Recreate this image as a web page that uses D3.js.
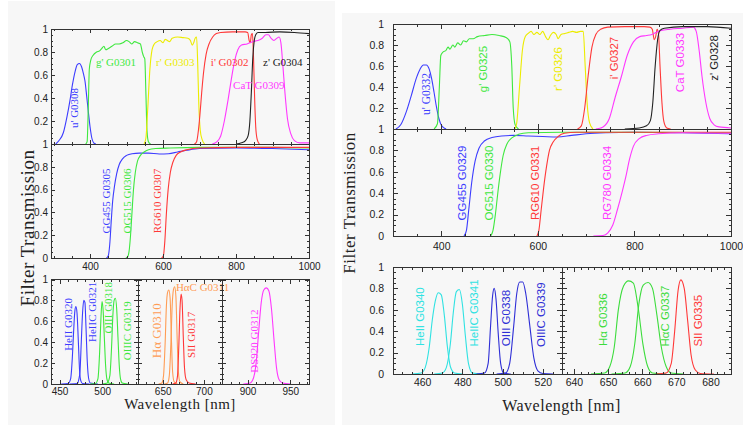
<!DOCTYPE html>
<html lang="en">
<head>
<meta charset="UTF-8" />
<title>Filter transmission curves</title>
<script src="https://d3js.org/d3.v7.min.js"></script>
<style>
  body { margin: 0; background: #fff; }
  svg { display: block; }
  .frame { fill: none; stroke: #333; stroke-width: 1; shape-rendering: crispEdges; }
  .tick line { stroke: #333; shape-rendering: crispEdges; }
  .curve { fill: none; stroke-width: 1.1; }
</style>
</head>
<body>
<svg width="743" height="425"></svg>
<script>
// ---- data: [wavelength nm, transmission] ----

// left figure, broad band
const u_G0308 = [[306,0],[315,0.03],[327,0.1],[337,0.24],[345,0.38],[352,0.52],[359,0.63],[365,0.69],[371,0.7],[377,0.67],[382,0.61],[386,0.55],[391,0.41],[395,0.29],[400,0.15],[405,0.05],[410,0.01],[416,0]];
const g_G0301 = [[388,0],[392,0.02],[395,0.3],[398,0.65],[402,0.73],[408,0.77],[418,0.8],[426,0.81],[432,0.83],[438,0.85],[443,0.82],[450,0.83],[460,0.85],[470,0.87],[480,0.87],[490,0.88],[500,0.9],[507,0.89],[514,0.87],[522,0.89],[530,0.88],[538,0.87],[543,0.8],[547,0.76],[550,0.74],[553,0.45],[556,0.12],[560,0.02],[566,0]];
const r_G0303 = [[548,0],[553,0.05],[558,0.3],[564,0.65],[570,0.82],[576,0.87],[584,0.89],[592,0.9],[600,0.88],[606,0.91],[612,0.9],[618,0.89],[625,0.92],[640,0.93],[655,0.925],[668,0.92],[675,0.9],[680,0.86],[684,0.88],[688,0.92],[692,0.93],[695,0.7],[698,0.35],[702,0.12],[707,0.04],[714,0]];
const i_G0302 = [[686,0],[692,0.02],[697,0.12],[701,0.25],[706,0.45],[711,0.62],[718,0.78],[726,0.87],[736,0.93],[746,0.96],[758,0.97],[790,0.975],[825,0.975],[832,0.97],[836,0.9],[839,0.88],[842,0.95],[845,0.96],[848,0.75],[851,0.4],[854,0.15],[858,0.04],[864,0]];
const CaT_G0309 = [[735,0],[748,0.02],[758,0.07],[768,0.2],[778,0.38],[787,0.56],[796,0.72],[805,0.82],[815,0.86],[830,0.87],[845,0.89],[860,0.9],[872,0.92],[882,0.95],[889,0.95],[896,0.92],[904,0.9],[912,0.92],[918,0.93],[923,0.88],[928,0.7],[934,0.45],[941,0.22],[950,0.09],[960,0.03],[975,0.01],[1000,0.01]];
const z_G0304 = [[800,0],[815,0.01],[826,0.03],[833,0.07],[838,0.2],[842,0.45],[846,0.75],[850,0.9],[854,0.95],[860,0.97],[880,0.97],[920,0.975],[960,0.97],[1000,0.96]];

// left figure, long pass
const GG455_G0305 = [[445,0],[450,0.02],[454,0.12],[458,0.32],[462,0.5],[467,0.63],[473,0.74],[480,0.82],[489,0.87],[500,0.9],[515,0.915],[535,0.92],[560,0.92],[590,0.912],[615,0.915],[640,0.93],[665,0.945],[700,0.96],[800,0.965],[900,0.96],[1000,0.95]];
const OG515_G0306 = [[498,0],[503,0.01],[507,0.06],[511,0.2],[515,0.4],[519,0.6],[524,0.75],[530,0.85],[538,0.9],[548,0.93],[560,0.95],[580,0.96],[620,0.965],[700,0.97],[800,0.97],[900,0.97],[1000,0.965]];
const RG610_G0307 = [[596,0],[601,0.02],[605,0.15],[609,0.38],[614,0.6],[620,0.75],[627,0.84],[636,0.9],[648,0.93],[665,0.95],[700,0.965],[800,0.97],[1000,0.97]];

// left figure, narrow band
const HeII_G0320 = [[452,0],[460,0.005],[463,0.05],[465,0.25],[466.5,0.5],[468,0.7],[469.2,0.74],[470.5,0.68],[472,0.42],[473.5,0.13],[475,0.03],[477,0.005],[485,0]];
const HeIIC_G0321 = [[462,0],[471,0.005],[472.5,0.04],[474,0.12],[475.5,0.4],[477,0.68],[478.5,0.8],[479.8,0.78],[481,0.55],[482.5,0.22],[484,0.06],[486,0.01],[495,0]];
const OIII_G0318 = [[486,0],[492,0.005],[495,0.05],[497,0.3],[498.5,0.62],[499.8,0.79],[501,0.72],[502.5,0.45],[504,0.18],[505.5,0.05],[507.5,0.01],[514,0]];
const OIIIC_G0319 = [[500,0],[506,0.01],[509,0.08],[511,0.35],[512.5,0.65],[514,0.8],[515.5,0.82],[517,0.72],[518.5,0.45],[520,0.18],[521.5,0.05],[523.5,0.01],[530,0]];
const Ha_G0310 = [[645,0],[649,0.01],[651,0.08],[653,0.4],[654.5,0.75],[656,0.88],[657.5,0.9],[659,0.82],[660.5,0.45],[662,0.12],[664,0.02],[668,0]];
const HaC_G0311 = [[652,0],[656,0.01],[658,0.08],[660,0.4],[661.5,0.75],[663,0.9],[664.5,0.93],[666,0.84],[667.5,0.45],[669,0.12],[671,0.02],[675,0]];
const SII_G0317 = [[662,0],[666,0.01],[668,0.08],[669.5,0.35],[671,0.72],[672.3,0.86],[673.5,0.8],[675,0.45],[676.5,0.15],[678.5,0.04],[682,0.01],[690,0]];
const DS920_G0312 = [[895,0],[903,0.01],[907,0.06],[910,0.2],[913,0.5],[916,0.78],[919,0.9],[922,0.92],[925,0.89],[928,0.72],[931,0.42],[934,0.15],[937,0.04],[941,0.01],[950,0]];

// right figure, broad band
const u_G0332 = [[306,0],[316,0.04],[328,0.17],[338,0.32],[348,0.48],[356,0.57],[363,0.61],[369,0.61],[375,0.57],[380,0.48],[385,0.35],[390,0.21],[395,0.1],[401,0.03],[410,0]];
const g_G0325 = [[385,0],[392,0.05],[396,0.4],[399,0.7],[403,0.73],[410,0.75],[414,0.78],[418,0.76],[424,0.8],[428,0.78],[434,0.82],[440,0.8],[446,0.84],[452,0.83],[458,0.86],[466,0.86],[475,0.88],[490,0.89],[505,0.9],[520,0.89],[535,0.87],[542,0.83],[546,0.6],[549,0.2],[553,0.04],[560,0]];
const r_G0326 = [[552,0],[556,0.05],[562,0.4],[568,0.75],[574,0.88],[580,0.91],[586,0.93],[592,0.9],[598,0.92],[604,0.9],[610,0.93],[616,0.88],[621,0.85],[626,0.89],[632,0.92],[638,0.9],[642,0.86],[648,0.9],[656,0.91],[664,0.92],[672,0.93],[680,0.92],[688,0.93],[694,0.93],[698,0.6],[702,0.25],[707,0.06],[714,0]];
const i_G0327 = [[682,0],[690,0.03],[697,0.2],[704,0.5],[712,0.78],[720,0.9],[730,0.95],[745,0.97],[780,0.975],[820,0.975],[832,0.97],[837,0.95],[841,0.85],[844,0.88],[847,0.95],[850,0.9],[853,0.6],[857,0.25],[861,0.07],[867,0.01],[875,0]];
const CaT_G0333 = [[720,0],[735,0.02],[748,0.1],[760,0.3],[773,0.5],[785,0.7],[798,0.83],[811,0.88],[825,0.89],[836,0.9],[850,0.93],[874,0.95],[900,0.96],[922,0.97],[928,0.93],[934,0.75],[940,0.5],[948,0.25],[956,0.1],[965,0.04],[975,0.02],[1000,0.01]];
const z_G0328 = [[780,0],[810,0.01],[825,0.03],[833,0.08],[838,0.25],[843,0.6],[848,0.85],[853,0.94],[862,0.96],[900,0.975],[950,0.975],[1000,0.96]];

// right figure, long pass
const GG455_G0329 = [[447,0],[452,0.05],[457,0.25],[463,0.5],[470,0.7],[478,0.82],[490,0.89],[505,0.92],[525,0.935],[550,0.94],[580,0.935],[610,0.93],[640,0.925],[670,0.94],[700,0.955],[740,0.965],[800,0.97],[900,0.965],[1000,0.955]];
const OG515_G0330 = [[502,0],[507,0.05],[512,0.2],[517,0.4],[522,0.58],[528,0.75],[536,0.86],[547,0.92],[560,0.95],[580,0.965],[650,0.97],[800,0.97],[1000,0.965]];
const RG610_G0331 = [[598,0],[602,0.05],[607,0.25],[612,0.45],[618,0.65],[624,0.8],[632,0.88],[642,0.93],[655,0.96],[680,0.97],[800,0.97],[1000,0.97]];
const RG780_G0334 = [[715,0],[735,0.005],[745,0.03],[755,0.1],[765,0.25],[775,0.42],[782,0.55],[790,0.72],[798,0.84],[810,0.91],[825,0.94],[850,0.955],[900,0.965],[1000,0.96]];

// right figure, narrow band
const HeII_G0340 = [[455,0],[459.5,0.01],[461.5,0.06],[463.5,0.25],[465,0.5],[466.5,0.68],[468,0.76],[469.5,0.74],[471,0.55],[472.5,0.26],[474,0.07],[476,0.01],[480,0]];
const HeIIC_G0341 = [[466,0],[470,0.01],[472,0.06],[474,0.28],[475.5,0.58],[477,0.77],[478.5,0.79],[480,0.65],[481.5,0.35],[483,0.1],[485,0.01],[490,0]];
const OIII_G0338 = [[487,0],[491,0.01],[492.8,0.1],[494,0.45],[495,0.73],[495.8,0.8],[496.7,0.7],[497.8,0.38],[499,0.1],[500.5,0.01],[504,0]];
const OIIIC_G0339 = [[497,0],[501.5,0.01],[503.5,0.1],[505.5,0.45],[507,0.75],[508.5,0.86],[510,0.86],[511.5,0.75],[513.5,0.45],[515.5,0.15],[517.5,0.03],[520,0.005],[525,0]];
const Ha_G0336 = [[645,0],[649,0.01],[650.5,0.07],[651.8,0.25],[653,0.6],[654.5,0.82],[656,0.87],[657.4,0.85],[658.8,0.62],[660.2,0.28],[661.6,0.07],[663,0.01],[667,0]];
const HaC_G0337 = [[651,0],[655,0.01],[656.5,0.07],[657.8,0.28],[659,0.65],[660.3,0.83],[661.7,0.855],[663,0.8],[664.3,0.55],[665.6,0.25],[667,0.07],[668.5,0.01],[672,0]];
const SII_G0335 = [[664,0],[667,0.01],[668.5,0.1],[669.5,0.4],[670.5,0.78],[671.3,0.88],[672.3,0.8],[673.3,0.5],[674.3,0.18],[675.5,0.04],[677,0.005],[681,0]];

// tick labels
const yLabelsTop = [0.2, 0.4, 0.6, 0.8, 1];
const yLabelsFull = [0, 0.2, 0.4, 0.6, 0.8, 1];
const xLabelsWide = [400, 600, 800, 1000];

// ---- layout ----
const C = {
  blue: '#3c3cff', green: '#3fe83f', yellow: '#ecec00', red: '#ff3838',
  magenta: '#ff38ff', black: '#222', cyan: '#30e2e2', orange: '#ff9c55',
  dblue: '#2e2ed6', dgreen: '#3cdc3c'
};
const SERIF = '"Liberation Serif", "DejaVu Serif", serif';
const SANS = '"Liberation Sans", Arial, sans-serif';

const svg = d3.select('svg');
svg.append('rect').attr('x', 8).attr('y', 1).attr('width', 327).attr('height', 424).attr('fill', '#f7f7f7');
svg.append('rect').attr('x', 342).attr('y', 13).attr('width', 401).attr('height', 412).attr('fill', '#f7f7f7');

const L = { maj: 4, min: 2, font: 10, lfont: 11, lfam: SERIF, ypad: 3 };
const R = { maj: 5, min: 2.5, font: 10.5, lfont: 11.5, lfam: SANS, ypad: 9 };

const panels = [
  { id: 'LT', st: L, xd: [293, 1000], xr: [51, 309], yr: [144, 29], xMaj: 200, xMin: 50, xLab: [], yLab: yLabelsTop,
    filters: [
      { d: u_G0308, c: C.blue, t: "u' G0308", at: [356, 0.313], rot: true },
      { d: g_G0301, c: C.green, t: "g' G0301", at: [416, 0.68] },
      { d: r_G0303, c: C.yellow, t: "r' G0303", at: [581, 0.68] },
      { d: i_G0302, c: C.red, t: "i' G0302", at: [731, 0.68] },
      { d: CaT_G0309, c: C.magenta, t: 'CaT G0309', at: [792, 0.478] },
      { d: z_G0304, c: C.black, t: "z' G0304", at: [874, 0.68] }
    ] },
  { id: 'LM', st: L, xd: [293, 1000], xr: [51, 309], yr: [258, 144], xMaj: 200, xMin: 50, xLab: xLabelsWide, xpad: 5, yLab: yLabelsFull,
    filters: [
      { d: GG455_G0305, c: C.blue, t: 'GG455 G0305', at: [444, 0.5], rot: true },
      { d: OG515_G0306, c: C.green, t: 'OG515 G0306', at: [503, 0.5], rot: true },
      { d: RG610_G0307, c: C.red, t: 'RG610 G0307', at: [583, 0.5], rot: true }
    ] },
  { id: 'LB1', st: L, xd: [440, 542], xr: [51, 138], yr: [384, 279.5], xMaj: 50, xMin: 10, xLab: [450, 500], xpad: 4, yLab: yLabelsFull,
    filters: [
      { d: HeII_G0320, c: C.blue, t: 'HeII G0320', at: [460, 0.57], rot: true },
      { d: HeIIC_G0321, c: C.blue, t: 'HeIIC G0321', at: [488.4, 0.69], rot: true },
      { d: OIII_G0318, c: C.green, t: 'OIII G0318', at: [507.2, 0.73], rot: true },
      { d: OIIIC_G0319, c: C.green, t: 'OIIIC G0319', at: [529.4, 0.51], rot: true }
    ] },
  { id: 'LB2', st: L, xd: [620, 722], xr: [138, 222], yr: [384, 279.5], xMaj: 50, xMin: 10, xLab: [650, 700], xpad: 4, yLab: [],
    filters: [
      { d: Ha_G0310, c: C.orange, t: 'H\u03b1 G0310', at: [642.7, 0.51], rot: true, size: 13 },
      { d: HaC_G0311, c: C.orange, t: 'H\u03b1C G0311', at: [666, 0.89] },
      { d: SII_G0317, c: C.red, t: 'SII G0317', at: [684.4, 0.47], rot: true }
    ] },
  { id: 'LB3', st: L, xd: [870, 972], xr: [222, 309], yr: [384, 279.5], xMaj: 50, xMin: 10, xLab: [900, 950], xpad: 4, yLab: [],
    filters: [
      { d: DS920_G0312, c: C.magenta, t: 'DS920 G0312', at: [907.5, 0.41], rot: true }
    ] },
  { id: 'RT', st: R, xd: [300, 1000], xr: [393, 731], yr: [129, 24], xMaj: 200, xMin: 50, xLab: [], yLab: yLabelsTop,
    filters: [
      { d: u_G0332, c: C.blue, t: "u' G0332", at: [368, 0.333], rot: true, fam: SERIF },
      { d: g_G0325, c: C.green, t: "g' G0325", at: [487, 0.571], rot: true },
      { d: r_G0326, c: C.yellow, t: "r' G0326", at: [642, 0.571], rot: true },
      { d: i_G0327, c: C.red, t: "i' G0327", at: [758, 0.676], rot: true },
      { d: CaT_G0333, c: C.magenta, t: 'CaT G0333', at: [894, 0.633], rot: true },
      { d: z_G0328, c: C.black, t: "z' G0328", at: [965, 0.676], rot: true }
    ] },
  { id: 'RM', st: R, xd: [300, 1000], xr: [393, 731], yr: [236, 129], xMaj: 200, xMin: 50, xLab: xLabelsWide, xpad: 7, yLab: yLabelsFull,
    filters: [
      { d: GG455_G0329, c: C.blue, t: 'GG455 G0329', at: [442, 0.495], rot: true },
      { d: OG515_G0330, c: C.green, t: 'OG515 G0330', at: [499, 0.495], rot: true },
      { d: RG610_G0331, c: C.red, t: 'RG610 G0331', at: [593, 0.495], rot: true },
      { d: RG780_G0334, c: C.magenta, t: 'RG780 G0334', at: [742.5, 0.495], rot: true }
    ] },
  { id: 'RB1', st: R, xd: [445.5, 529.5], xr: [393, 562], yr: [374, 267], xMaj: 20, xMin: 5, xLab: [460, 480, 500, 520], xpad: 5, yLab: yLabelsFull,
    filters: [
      { d: HeII_G0340, c: C.cyan, t: 'HeII G0340', at: [458.9, 0.536], rot: true },
      { d: HeIIC_G0341, c: C.cyan, t: 'HeIIC G0341', at: [485.9, 0.57], rot: true },
      { d: OIII_G0338, c: C.dblue, t: 'OIII G0338', at: [501.5, 0.523], rot: true },
      { d: OIIIC_G0339, c: C.dblue, t: 'OIIIC G0339', at: [519.1, 0.554], rot: true }
    ] },
  { id: 'RB2', st: R, xd: [636.5, 686], xr: [562, 731], yr: [374, 267], xMaj: 10, xMin: 2, xLab: [640, 650, 660, 670, 680], xpad: 5, yLab: [],
    filters: [
      { d: Ha_G0336, c: C.dgreen, t: 'H\u03b1 G0336', at: [648.6, 0.507], rot: true },
      { d: HaC_G0337, c: C.dgreen, t: 'H\u03b1C G0337', at: [666.7, 0.542], rot: true },
      { d: SII_G0335, c: C.red, t: 'SII G0335', at: [676.4, 0.498], rot: true }
    ] }
];

const yMajor = [0, 0.2, 0.4, 0.6, 0.8, 1];
const yMinor = d3.range(0, 1.0001, 0.05);

function styleAxis(sel, st) {
  sel.select('.domain').remove();
  sel.selectAll('text').attr('font-family', SANS).attr('font-size', st.font).attr('fill', '#222');
  sel.selectAll('line').attr('stroke', '#333');
}

function drawPanel(p) {
  const st = p.st;
  const g = svg.append('g');
  const x = d3.scaleLinear().domain(p.xd).range(p.xr);
  const y = d3.scaleLinear().domain([0, 1]).range(p.yr);
  const inX = v => v >= p.xd[0] - 1e-6 && v <= p.xd[1] + 1e-6;
  const xMaj = d3.range(Math.ceil(p.xd[0] / p.xMaj) * p.xMaj, p.xd[1] + 1e-6, p.xMaj).filter(inX);
  const xMin = d3.range(Math.ceil(p.xd[0] / p.xMin) * p.xMin, p.xd[1] + 1e-6, p.xMin).filter(inX);

  svg.append('clipPath').attr('id', 'clip-' + p.id).append('rect')
    .attr('x', p.xr[0]).attr('y', p.yr[1])
    .attr('width', p.xr[1] - p.xr[0]).attr('height', p.yr[0] - p.yr[1]);

  const line = d3.line().x(d => x(d[0])).y(d => y(d[1])).curve(d3.curveMonotoneX);
  const cg = g.append('g').attr('clip-path', `url(#clip-${p.id})`);
  cg.selectAll('path').data(p.filters).join('path')
    .attr('class', 'curve').attr('stroke', f => f.c).attr('d', f => line(f.d));

  // filter names
  p.filters.forEach(f => {
    const t = g.append('text').text(f.t)
      .attr('fill', f.c)
      .attr('font-family', f.fam || st.lfam)
      .attr('font-size', f.size || st.lfont);
    if (f.rot) {
      t.attr('transform', `translate(${x(f.at[0])},${y(f.at[1])}) rotate(-90)`)
        .attr('text-anchor', 'middle').attr('dy', '0.35em');
    } else {
      t.attr('x', x(f.at[0])).attr('y', y(f.at[1]));
    }
  });

  // ticks, all pointing inward
  const fmtY = d => (p.yLab.includes(d) ? d3.format('~g')(d) : '');
  const fmtX = d => (p.xLab.includes(d) ? d3.format('d')(d) : '');
  const ax = (axis, tx, ty) => g.append('g').attr('transform', `translate(${tx},${ty})`).call(axis).call(s => styleAxis(s, st));

  ax(d3.axisLeft(y).tickValues(yMajor).tickSize(-st.maj).tickPadding(st.ypad).tickFormat(fmtY), p.xr[0], 0);
  ax(d3.axisLeft(y).tickValues(yMinor).tickSize(-st.min).tickFormat(''), p.xr[0], 0);
  ax(d3.axisRight(y).tickValues(yMajor).tickSize(-st.maj).tickFormat(''), p.xr[1], 0);
  ax(d3.axisRight(y).tickValues(yMinor).tickSize(-st.min).tickFormat(''), p.xr[1], 0);
  ax(d3.axisBottom(x).tickValues(xMaj).tickSize(-st.maj).tickPadding(p.xpad || 4).tickFormat(fmtX), 0, p.yr[0]);
  ax(d3.axisBottom(x).tickValues(xMin).tickSize(-st.min).tickFormat(''), 0, p.yr[0]);
  ax(d3.axisTop(x).tickValues(xMaj).tickSize(-st.maj).tickFormat(''), 0, p.yr[1]);
  ax(d3.axisTop(x).tickValues(xMin).tickSize(-st.min).tickFormat(''), 0, p.yr[1]);

  g.append('rect').attr('class', 'frame')
    .attr('x', p.xr[0]).attr('y', p.yr[1])
    .attr('width', p.xr[1] - p.xr[0]).attr('height', p.yr[0] - p.yr[1]);
}

panels.forEach(drawPanel);

// axis titles
const titles = [
  { t: 'Wavelength [nm]', x: 180, y: 409, size: 15 },
  { t: 'Wavelength [nm]', x: 561.5, y: 411, size: 16 },
  { t: 'Filter Transmission', x: 27, y: 228, size: 19, rot: true },
  { t: 'Filter Transmission', x: 349, y: 203, size: 17, rot: true }
];
titles.forEach(d => {
  const t = svg.append('text').text(d.t)
    .attr('font-family', SERIF).attr('font-size', d.size)
    .attr('fill', '#222').attr('text-anchor', 'middle')
    .style('letter-spacing', '0.5px');
  if (d.rot) t.attr('transform', `translate(${d.x},${d.y}) rotate(-90)`).attr('dy', '0.35em');
  else t.attr('x', d.x).attr('y', d.y);
});
</script>
</body>
</html>
